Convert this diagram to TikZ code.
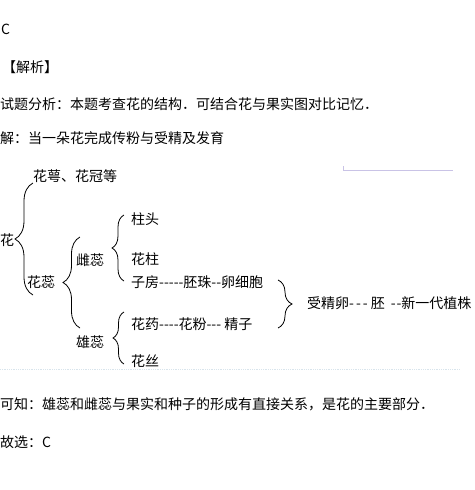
\documentclass[tikz,border=0pt]{standalone}
\usepackage{fontspec}
\setmainfont{Noto Sans CJK SC}[Ligatures=TeXOff]
\usetikzlibrary{positioning,decorations.pathreplacing}
\definecolor{FaintLilac}{HTML}{C9C3E6}
\definecolor{FaintDots}{HTML}{D8E4EC}

\begin{document}
\begin{tikzpicture}[
				x=1pt,y=-1pt,
				txt/.style={
					anchor=west,
					inner sep=0pt,
					font=\fontsize{14pt}{16pt}\selectfont
				},
				brc/.style={
					decorate,
					decoration={brace,amplitude=#1},
					line width=0.8pt
				}
				]
				
				\useasboundingbox (0,0) rectangle (474,490);
				
				% answer text
				\node[txt] (ans) at (1,29) {C};
				\node[txt] (head) at (2,67) {【解析】};
				\node[txt] (ana) at (0,104) {试题分析：本题考查花的结构．可结合花与果实图对比记忆．};
				\node[txt] (sol) at (0,138) {解：当一朵花完成传粉与受精及发育};
				
				% tree of the flower
				\node[txt] (flower) at (0,240) {花};
				\node[txt] (calyx) at (33,176) {花萼、花冠等};
				\node[txt] (stamens) at (27,282) {花蕊};
				\node[txt] (pistil) at (76,260) {雌蕊};
				\node[txt] (stamen) at (76,342) {雄蕊};
				\node[txt] (stigma) at (131,219) {柱头};
				\node[txt] (styl) at (131,259) {花柱};
				\node[txt] (ovary) at (131,282) {子房-----胚珠--卵细胞};
				\node[txt] (anther) at (131,324) {花药----花粉--- 精子};
				\node[txt] (filament) at (131,361) {花丝};
				\node[txt] (zygote) at (307,303)
					{受精卵-\kern2pt-\kern2pt-\kern3pt 胚\kern6pt-\kern1pt-新一代植株};
				
				\node[txt] (concl) at (0,404) {可知：雄蕊和雌蕊与果实和种子的形成有直接关系，是花的主要部分．};
				\node[txt] (choice) at (0,442) {故选：C};
				
				% brace ends
				\coordinate (b1t) at (33,183);
				\coordinate (b1b) at (33,295);
				\coordinate (b2t) at (80,237);
				\coordinate (b2b) at (80,328);
				\coordinate (b3t) at (124,215);
				\coordinate (b3b) at (124,281);
				\coordinate (b4t) at (124,312);
				\coordinate (b4b) at (124,364);
				\coordinate (b5t) at (278,280);
				\coordinate (b5b) at (278,328);
				
				\draw[brc=18pt] (b1b) -- (b1t);
				\draw[brc=17pt] (b2b) -- (b2t);
				\draw[brc=12pt] (b3b) -- (b3t);
				\draw[brc=11pt] (b4b) -- (b4t);
				\draw[brc=14pt] (b5t) -- (b5b);
				
				% faint scan marks
				\draw[FaintLilac,line width=0.8pt] (343,166) -- (343,170) -- (453,170);
				\draw[FaintDots,densely dotted,line width=0.8pt] (0,369) -- (460,369);
				
			\end{tikzpicture}
\end{document}
